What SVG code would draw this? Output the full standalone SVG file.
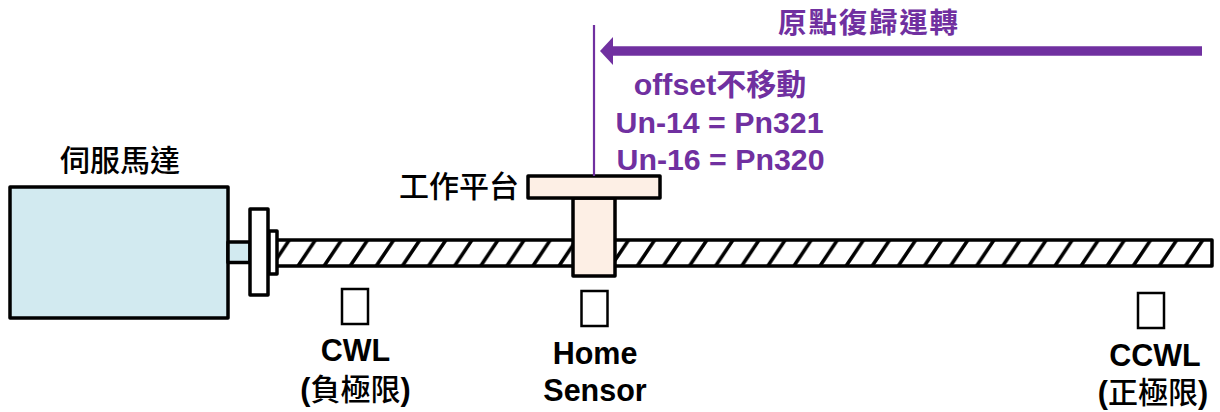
<svg xmlns="http://www.w3.org/2000/svg" width="1220" height="412" viewBox="0 0 1220 412">
<style>
text{font-family:"Liberation Sans","Noto Sans CJK TC",sans-serif;font-weight:700;font-size:30.500px;text-anchor:middle;fill:#000}
.cjk{font-family:"Noto Sans CJK TC","Liberation Sans",sans-serif;font-weight:500;font-size:30px}
.p{fill:#7030a0;font-size:30.300px}
.s{stroke:#000;stroke-width:3.5;stroke-linejoin:round}
.t{stroke:#000;stroke-width:2.5;fill:#fff}
</style>
<defs>
<pattern id="hatch" patternUnits="userSpaceOnUse" x="298" y="240" width="26.1" height="26">
<path d="M-26.100 26L-8.700 0M0 26L17.400 0M26.100 26L43.500 0" stroke="#000" stroke-width="3.500" fill="none"/>
</pattern>
<marker id="head" markerUnits="userSpaceOnUse" markerWidth="14" markerHeight="28" refX="0" refY="14" orient="auto"><path d="M0 0L13 14L0 28Z" fill="#7030a0"/></marker>
</defs>
<g id="screw"><rect x="276" y="240" width="936" height="26" fill="#fff"/><rect x="276" y="240" width="936" height="26" fill="url(#hatch)"/><rect x="276" y="240" width="936" height="26" fill="none" class="s"/></g>
<g id="motor"><rect x="10" y="187" width="218" height="131" fill="#d2eaf0" class="s"/><rect x="228" y="242" width="22" height="20.500" fill="#d2eaf0" class="s"/><text class="cjk" x="120" y="171">伺服馬達</text></g>
<g id="coupling"><rect x="269" y="231" width="8" height="43" fill="#fff" class="s"/><rect x="250" y="209" width="18" height="86" fill="#fff" class="s"/></g>
<g id="table"><rect x="573" y="198" width="42" height="78" fill="#fdefe5" class="s"/><rect x="528" y="176" width="132" height="22" fill="#fdefe5" class="s"/><text class="cjk" x="459" y="197">工作平台</text></g>
<g id="connectors"><path d="M594 25V176" stroke="#7030a0" stroke-width="2.2" fill="none"/><path d="M1202 51H613" stroke="#7030a0" stroke-width="9.500" fill="none" marker-end="url(#head)"/></g>
<g id="labels"><text class="cjk p" x="869" y="33" style="font-weight:700;font-size:28.500px;letter-spacing:1.800px">原點復歸運轉</text><text class="p" x="720" y="95"><tspan>offset</tspan><tspan class="cjk" style="font-weight:700">不移動</tspan></text><text class="p" x="719.500" y="133">Un-14 = Pn321</text><text class="p" x="720.500" y="170">Un-16 = Pn320</text></g>
<g id="cwl"><rect x="342" y="289" width="26" height="35" class="t"/><text x="355.500" y="361">CWL</text><text x="355.500" y="400">(<tspan class="cjk">負極限</tspan>)</text></g>
<g id="home"><rect x="581.500" y="291" width="26" height="35" class="t"/><text x="595" y="364">Home</text><text x="595" y="401">Sensor</text></g>
<g id="ccwl"><rect x="1138" y="293" width="26" height="35" class="t"/><text x="1155" y="366">CCWL</text><text x="1153" y="403">(<tspan class="cjk">正極限</tspan>)</text></g>
</svg>
